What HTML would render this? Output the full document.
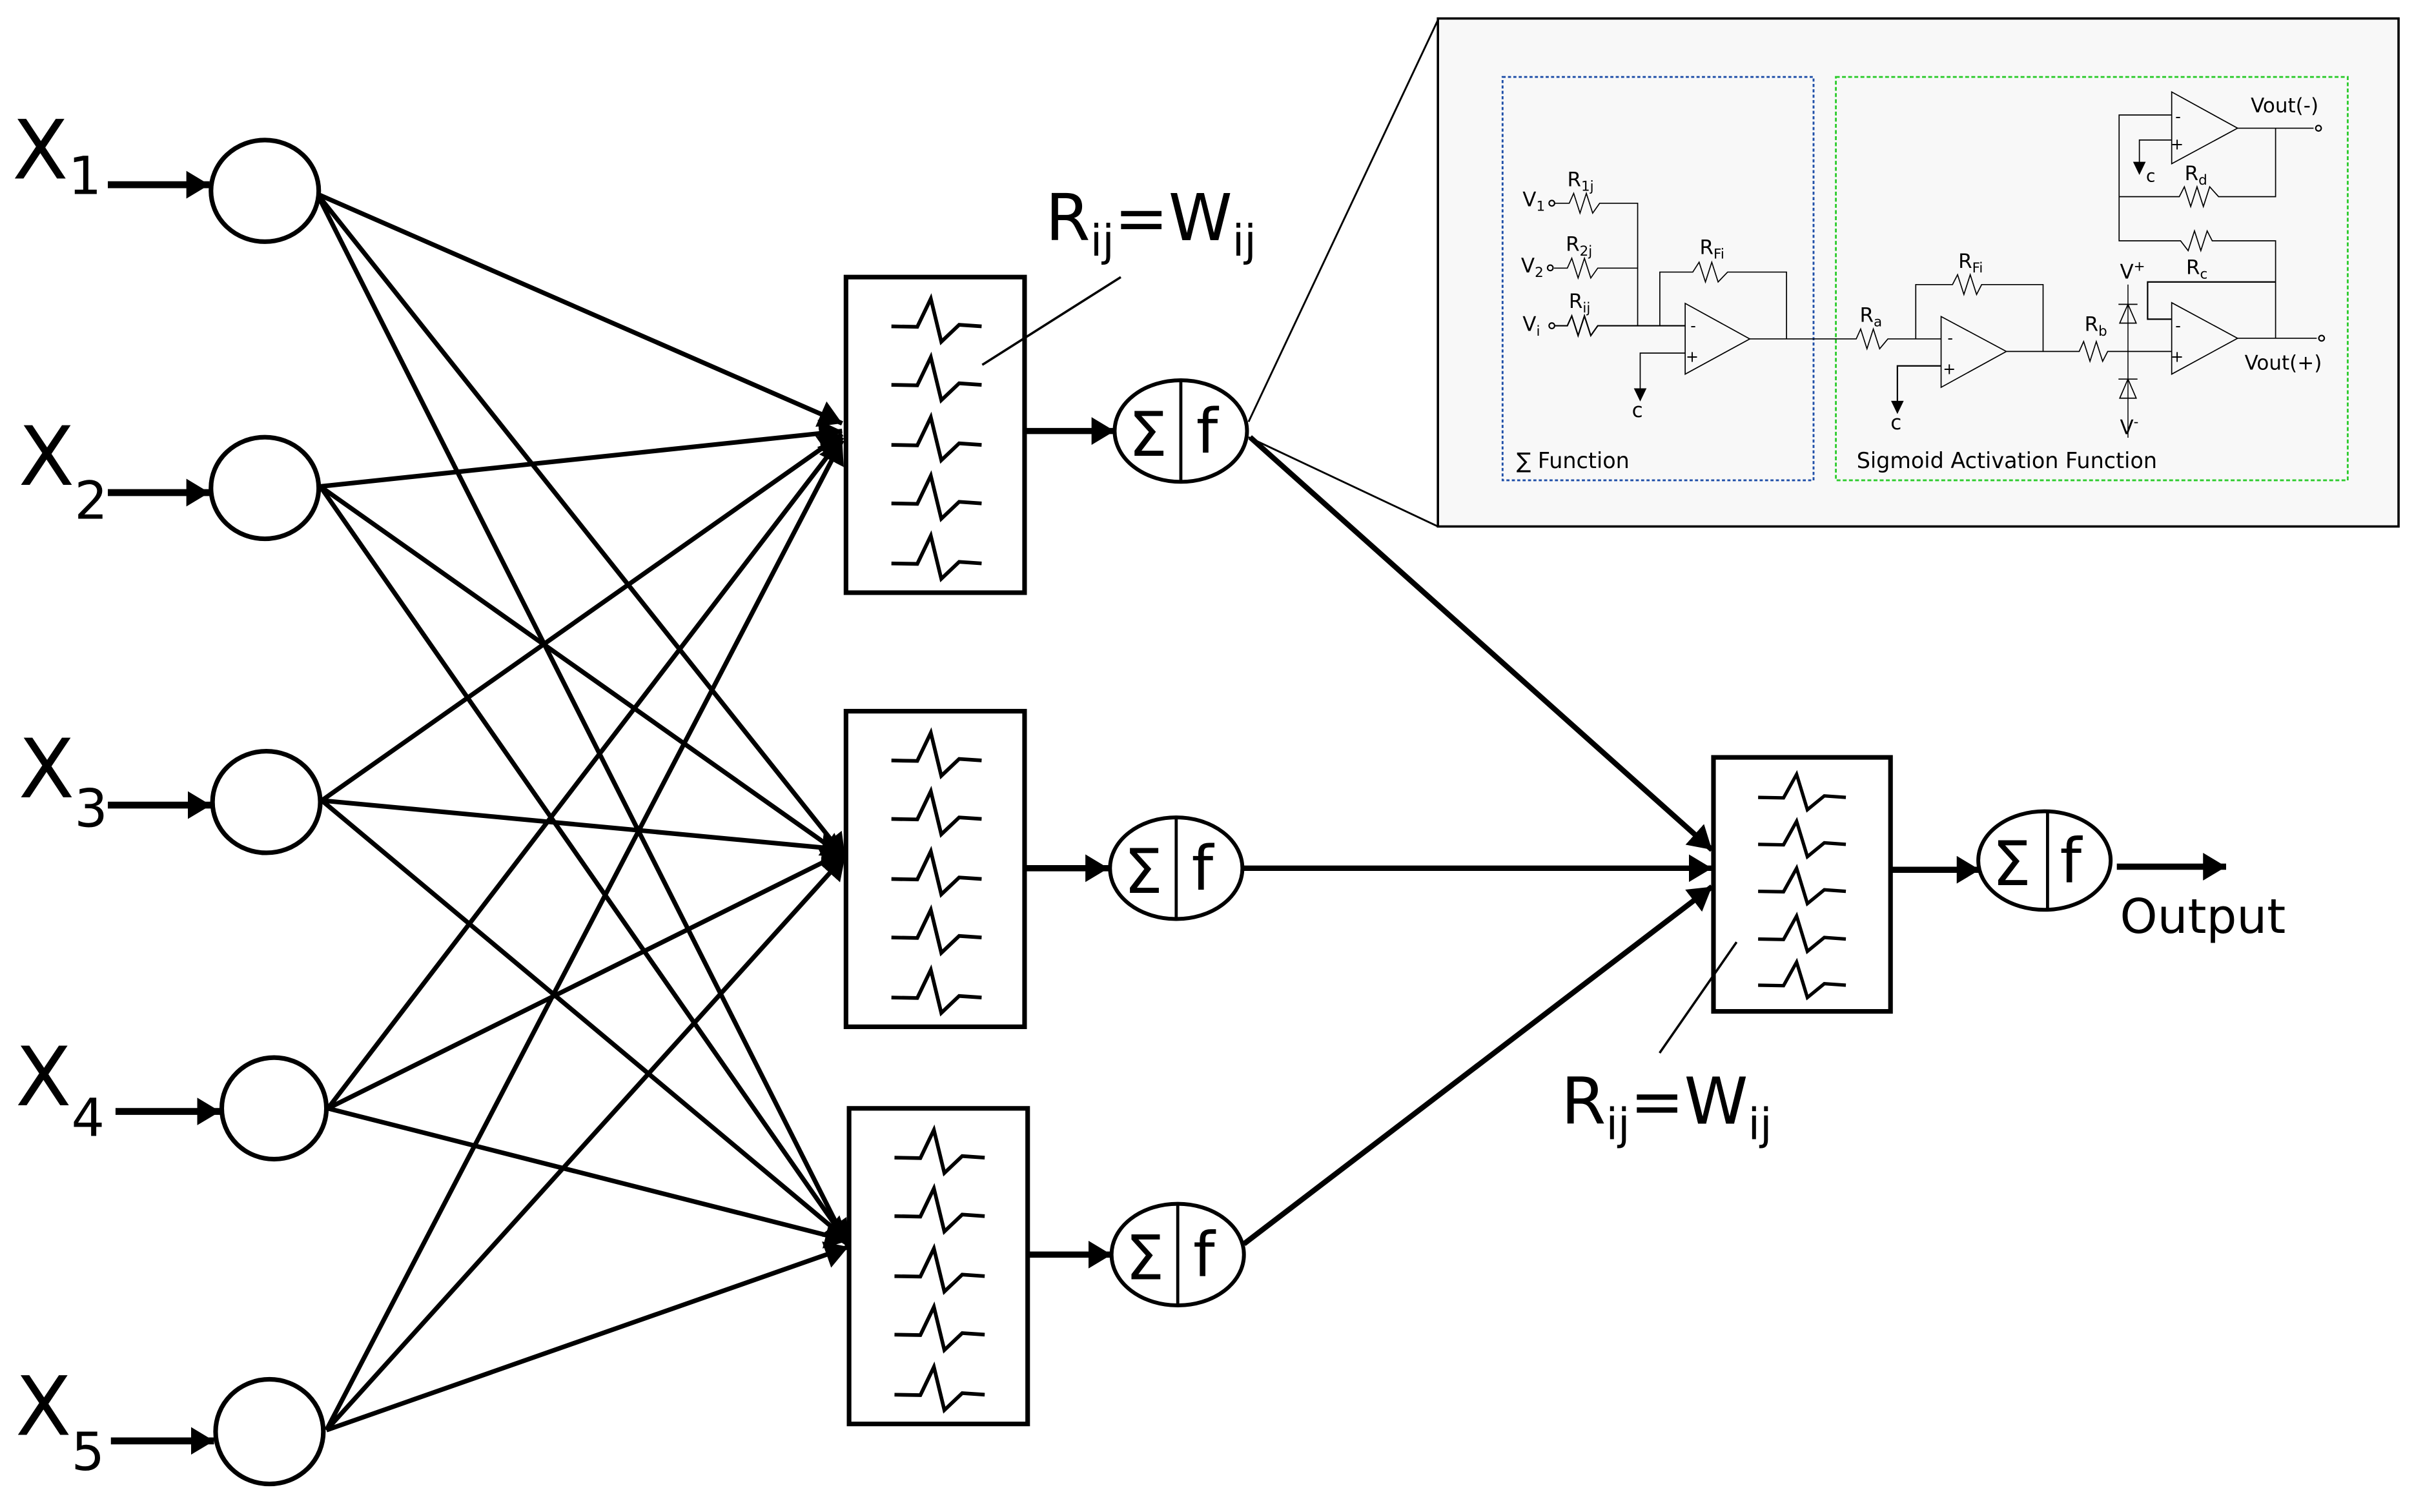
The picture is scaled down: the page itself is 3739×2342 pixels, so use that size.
<!DOCTYPE html>
<html><head><meta charset="utf-8"><style>
html,body{margin:0;padding:0;background:#fff;}
svg{display:block;}
text{font-family:"DejaVu Sans","Liberation Sans",sans-serif;fill:#000;}
</style></head><body>
<svg width="3739" height="2342" viewBox="0 0 1568 982.2" xmlns="http://www.w3.org/2000/svg">
<defs>
<marker id="ah" markerUnits="userSpaceOnUse" markerWidth="16" markerHeight="20" refX="15" refY="9" orient="auto">
<path d="M0,0 L15,9 L0,18 Z" fill="#000"/>
</marker>
<path id="rs" d="M0,0 L16.8,0.3 L25.6,-18 L32.4,10 L44,-1 L58.6,0" fill="none" stroke="#000" stroke-width="2.4"/>
<path id="rso" d="M0,0 L16.5,0.3 L25,-15 L32,8 L43,-1 L57,0" fill="none" stroke="#000" stroke-width="2.2"/>
</defs>

<!-- inset -->
<line x1="811" y1="274" x2="934" y2="13" stroke="#000" stroke-width="1.2"/>
<line x1="811" y1="284" x2="934" y2="342" stroke="#000" stroke-width="1.2"/>
<rect x="934" y="12" width="624" height="330" fill="#f8f8f8" stroke="#000" stroke-width="1.5"/>
<rect x="976" y="50" width="202" height="262" fill="none" stroke="#1f4fa8" stroke-width="1.2" stroke-dasharray="2,1.5"/>
<rect x="1192.5" y="50" width="332.5" height="262" fill="none" stroke="#2ecc2e" stroke-width="1.2" stroke-dasharray="2.5,1.5"/>

<g transform="translate(922.6,8.4) scale(0.4115,0.2139)" fill="none" stroke="#000">
<path vector-effect="non-scaling-stroke" stroke-width="1.7" d="M213,578 L235,578 L242,548 L252,608 L262,548 L272,608 L283,578 L343,578 L343,950"/>
<path vector-effect="non-scaling-stroke" stroke-width="1.7" d="M211,775 L232,775 L239,745 L249,805 L259,745 L269,805 L280,775 L343,775"/>
<path vector-effect="non-scaling-stroke" stroke-width="2.2" d="M213,950 L232,950 L239,920 L249,980 L259,920 L269,980 L280,950 L418,950"/>
<path vector-effect="non-scaling-stroke" stroke-width="1.7" d="M378,950 L378,787 L430,787 L440,757 L450,817 L460,757 L470,817 L485,787 L578,787 L578,990"/>
<path vector-effect="non-scaling-stroke" stroke-width="1.7" d="M418,882 L418,1097 L520,990 Z"/>
<path vector-effect="non-scaling-stroke" stroke-width="1.7" d="M418,1033 L347,1033 L347,1160"/>
<path d="M337,1140 L357,1140 L347,1180 Z" fill="#000" stroke="none"/>
<path vector-effect="non-scaling-stroke" stroke-width="1.7" d="M520,990 L688,990 L695,960 L705,1020 L715,960 L725,1020 L738,990 L822,990"/>
<path vector-effect="non-scaling-stroke" stroke-width="1.7" d="M822,922 L822,1137 L925,1028 Z"/>
<path vector-effect="non-scaling-stroke" stroke-width="1.7" d="M782,990 L782,825 L840,825 L848,795 L858,855 L868,795 L878,855 L886,825 L983,825 L983,1028"/>
<path vector-effect="non-scaling-stroke" stroke-width="2.2" d="M822,1072 L753,1072 L753,1195"/>
<path d="M743,1178 L763,1178 L753,1218 Z" fill="#000" stroke="none"/>
<path vector-effect="non-scaling-stroke" stroke-width="1.7" d="M925,1028 L1040,1028 L1047,998 L1057,1058 L1067,998 L1077,1058 L1085,1028 L1186,1028"/>
<path vector-effect="non-scaling-stroke" stroke-width="1.5" d="M1117,825 L1117,1290"/>
<path vector-effect="non-scaling-stroke" stroke-width="1.7" d="M1102,885 L1132,885 M1104,942 L1130,942 L1117,885 Z"/>
<path vector-effect="non-scaling-stroke" stroke-width="1.7" d="M1102,1112 L1132,1112 M1104,1170 L1130,1170 L1117,1112 Z"/>
<path vector-effect="non-scaling-stroke" stroke-width="1.7" d="M1186,880 L1186,1097 L1290,988 Z"/>
<path vector-effect="non-scaling-stroke" stroke-width="2.2" d="M1186,930 L1148,930 L1148,817 L1350,817"/>
<path vector-effect="non-scaling-stroke" stroke-width="1.7" d="M1290,988 L1415,988"/>
<path vector-effect="non-scaling-stroke" stroke-width="1.7" d="M1350,988 L1350,692 L1250,692 L1242,662 L1232,722 L1222,662 L1212,722 L1200,692 L1103,692 L1103,310 L1186,310"/>
<path vector-effect="non-scaling-stroke" stroke-width="1.7" d="M1103,558 L1198,558 L1206,528 L1216,588 L1226,528 L1236,588 L1246,528 L1260,558 L1350,558 L1350,350"/>
<path vector-effect="non-scaling-stroke" stroke-width="1.7" d="M1186,240 L1186,458 L1290,350 Z"/>
<path vector-effect="non-scaling-stroke" stroke-width="1.7" d="M1290,350 L1410,350"/>
<path vector-effect="non-scaling-stroke" stroke-width="1.7" d="M1186,386 L1135,386 L1135,470"/>
<path d="M1125,452 L1145,452 L1135,492 Z" fill="#000" stroke="none"/>
</g>
<circle cx="1008" cy="132" r="1.8" fill="#f8f8f8" stroke="#000" stroke-width="0.9"/>
<circle cx="1007" cy="174" r="1.8" fill="#f8f8f8" stroke="#000" stroke-width="0.9"/>
<circle cx="1008" cy="211.6" r="1.8" fill="#f8f8f8" stroke="#000" stroke-width="0.9"/>
<circle cx="1506" cy="83.3" r="1.8" fill="#f8f8f8" stroke="#000" stroke-width="0.9"/>
<circle cx="1508" cy="219.7" r="1.8" fill="#f8f8f8" stroke="#000" stroke-width="0.9"/>
<g font-size="10">
<text x="1098" y="215">-</text><text x="1095" y="235">+</text>
<text x="1265" y="223">-</text><text x="1262" y="243">+</text>
<text x="1413" y="215">-</text><text x="1410" y="235">+</text>
<text x="1413" y="79">-</text><text x="1410" y="97">+</text>
</g>
<g font-size="13">
<text x="989" y="134">V<tspan font-size="9" dy="3">1</tspan></text>
<text x="988" y="177">V<tspan font-size="9" dy="3">2</tspan></text>
<text x="989" y="215">V<tspan font-size="9" dy="3">i</tspan></text>
<text x="1018" y="121">R<tspan font-size="9" dy="3">1j</tspan></text>
<text x="1017" y="163">R<tspan font-size="9" dy="3">2j</tspan></text>
<text x="1019" y="200">R<tspan font-size="9" dy="3">ij</tspan></text>
<text x="1104" y="165">R<tspan font-size="9" dy="3">Fi</tspan></text>
<text x="1272" y="174">R<tspan font-size="9" dy="3">Fi</tspan></text>
<text x="1208" y="209">R<tspan font-size="9" dy="3">a</tspan></text>
<text x="1354" y="215">R<tspan font-size="9" dy="3">b</tspan></text>
<text x="1420" y="178">R<tspan font-size="9" dy="3">c</tspan></text>
<text x="1419" y="117">R<tspan font-size="9" dy="3">d</tspan></text>
<text x="1377" y="181">V<tspan font-size="9" dy="-5">+</tspan></text>
<text x="1377" y="282">V<tspan font-size="9" dy="-5">-</tspan></text>
<text x="1060" y="271">c</text>
<text x="1228" y="279">c</text>
<text x="1394" y="118" font-size="11">c</text>
<text x="1462" y="73">Vout(-)</text>
<text x="1458" y="240">Vout(+)</text>
<text x="985" y="304" font-size="14">∑ Function</text>
<text x="1206" y="304" font-size="14">Sigmoid Activation Function</text>
</g>

<g stroke="#000" stroke-width="3" marker-end="url(#ah)">
<line x1="206" y1="126" x2="547" y2="275"/>
<line x1="206" y1="126" x2="549" y2="557"/>
<line x1="206" y1="126" x2="551" y2="810"/>
<line x1="208" y1="316" x2="547" y2="280"/>
<line x1="208" y1="316" x2="549" y2="557"/>
<line x1="208" y1="316" x2="551" y2="808"/>
<line x1="209" y1="520" x2="547" y2="282"/>
<line x1="209" y1="520" x2="549" y2="552"/>
<line x1="209" y1="520" x2="551" y2="806"/>
<line x1="213" y1="720" x2="547" y2="284"/>
<line x1="213" y1="720" x2="549" y2="553"/>
<line x1="213" y1="720" x2="551" y2="806"/>
<line x1="212" y1="929" x2="547" y2="286"/>
<line x1="212" y1="929" x2="549" y2="556"/>
<line x1="212" y1="929" x2="551" y2="810"/>
</g>
<g stroke="#000" stroke-width="4.5" marker-end="url(#ah)">
<line x1="70" y1="120" x2="136" y2="120"/>
<line x1="70" y1="320" x2="136" y2="320"/>
<line x1="70" y1="523" x2="137" y2="523"/>
<line x1="75" y1="722" x2="143" y2="722"/>
<line x1="72" y1="936" x2="139" y2="936"/>
</g>
<g fill="#fff" stroke="#000" stroke-width="3">
<ellipse cx="172" cy="124" rx="35" ry="33"/>
<ellipse cx="172" cy="317" rx="35" ry="33"/>
<ellipse cx="173" cy="521" rx="35" ry="33"/>
<ellipse cx="178" cy="720" rx="34" ry="33"/>
<ellipse cx="175" cy="930" rx="35" ry="34"/>
</g>
<g font-size="53">
<text x="8" y="116">X<tspan font-size="34" dy="10">1</tspan></text>
<text x="12" y="315">X<tspan font-size="34" dy="22">2</tspan></text>
<text x="12" y="518">X<tspan font-size="34" dy="19">3</tspan></text>
<text x="10" y="718">X<tspan font-size="34" dy="20">4</tspan></text>
<text x="10" y="932">X<tspan font-size="34" dy="23">5</tspan></text>
</g>

<g fill="#fff" stroke="#000" stroke-width="3">
<rect x="549.5" y="180" width="116" height="205"/>
<rect x="549.5" y="462" width="116" height="205"/>
<rect x="551.5" y="720" width="116" height="205"/>
<rect x="1113" y="492" width="115" height="165"/>
</g>
<g>
<use href="#rs" x="579" y="212"/><use href="#rs" x="579" y="250"/><use href="#rs" x="579" y="289"/><use href="#rs" x="579" y="327"/><use href="#rs" x="579" y="366"/>
<use href="#rs" x="579" y="494"/><use href="#rs" x="579" y="532"/><use href="#rs" x="579" y="571"/><use href="#rs" x="579" y="609"/><use href="#rs" x="579" y="648"/>
<use href="#rs" x="581" y="752"/><use href="#rs" x="581" y="790"/><use href="#rs" x="581" y="829"/><use href="#rs" x="581" y="867"/><use href="#rs" x="581" y="906"/>
<use href="#rso" x="1142" y="518"/><use href="#rso" x="1142" y="548.5"/><use href="#rso" x="1142" y="579"/><use href="#rso" x="1142" y="610"/><use href="#rso" x="1142" y="640"/>
</g>

<g stroke="#000" stroke-width="4" marker-end="url(#ah)">
<line x1="666" y1="280" x2="724" y2="280"/>
<line x1="666" y1="564" x2="720" y2="564"/>
<line x1="668" y1="815" x2="722" y2="815"/>
<line x1="1228" y1="565" x2="1286" y2="565"/>
<line x1="1375" y1="563" x2="1446" y2="563"/>
</g>
<g stroke="#000" stroke-width="3.5" marker-end="url(#ah)">
<line x1="812" y1="284" x2="1112" y2="552"/>
<line x1="806" y1="564" x2="1112" y2="564"/>
<line x1="808" y1="808" x2="1112" y2="576"/>
</g>

<g fill="#fff" stroke="#000" stroke-width="2.5">
<ellipse cx="767" cy="280" rx="43" ry="33"/>
<ellipse cx="764" cy="564" rx="43" ry="33"/>
<ellipse cx="765" cy="815" rx="43" ry="33"/>
<ellipse cx="1328" cy="559" rx="43" ry="32"/>
</g>
<g stroke="#000" stroke-width="2">
<line x1="767" y1="247" x2="767" y2="313"/>
<line x1="764" y1="531" x2="764" y2="597"/>
<line x1="765" y1="782" x2="765" y2="848"/>
<line x1="1330" y1="527" x2="1330" y2="591"/>
</g>
<g font-size="40">
<text x="733" y="296">Σ</text><text x="777" y="294">f</text>
<text x="730" y="580">Σ</text><text x="774" y="578">f</text>
<text x="731" y="831">Σ</text><text x="775" y="829">f</text>
<text x="1294" y="575">Σ</text><text x="1338" y="573">f</text>
</g>
<text x="1377" y="606" font-size="31">Output</text>

<line x1="638" y1="237" x2="728" y2="180" stroke="#000" stroke-width="1.5"/>
<text x="679" y="156" font-size="42">R<tspan font-size="28" dy="10">ij</tspan><tspan dy="-10">=W</tspan><tspan font-size="28" dy="10">ij</tspan></text>
<line x1="1078" y1="684" x2="1128" y2="612" stroke="#000" stroke-width="1.5"/>
<text x="1014" y="730" font-size="42">R<tspan font-size="28" dy="10">ij</tspan><tspan dy="-10">=W</tspan><tspan font-size="28" dy="10">ij</tspan></text>
</svg>
</body></html>
